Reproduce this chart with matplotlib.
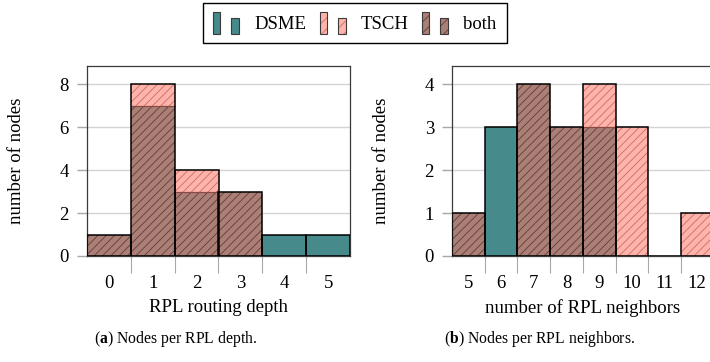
import numpy as np
import matplotlib
matplotlib.use("Agg")
import matplotlib.pyplot as plt
from matplotlib.patches import Rectangle
from matplotlib.legend_handler import HandlerBase
from matplotlib.ticker import FixedLocator

# ---- data -------------------------------------------------------------
depth_bins = [0, 1, 2, 3, 4, 5]
depth_dsme = [1, 7, 3, 3, 1, 1]
depth_tsch = [1, 8, 4, 3, 0, 0]

neigh_bins = [5, 6, 7, 8, 9, 10, 11, 12]
neigh_dsme = [1, 3, 4, 3, 3, 0, 0, 0]
neigh_tsch = [1, 0, 4, 3, 4, 3, 0, 1]

series_labels = ["DSME", "TSCH", "both"]

# ---- style ------------------------------------------------------------
plt.rcParams["font.family"] = ["Liberation Serif", "DejaVu Serif"]
plt.rcParams["mathtext.fontset"] = "custom"
plt.rcParams["mathtext.rm"] = "Liberation Serif"
plt.rcParams["mathtext.bf"] = "Liberation Serif:bold"
plt.rcParams["hatch.linewidth"] = 0.6

FS = 13.5
TEAL = "#468a8c"
PINK = "#ffb3aa"
PINK_HATCH = "#c46f68"
BROWN = "#ab7e76"
BROWN_HATCH = "#5e3f3a"
SPLIT = "#8a4a44"
GRID = "#d4d4d4"
TICK = "#a8a8a8"
HATCH = "////"

W, H = 710, 362
fig = plt.figure(figsize=(W / 100, H / 100), dpi=100)


def px_axes(x0, x1, ytop, ybot):
    return fig.add_axes([x0 / W, 1 - ybot / H, (x1 - x0) / W, (ybot - ytop) / H])


def draw_hist(ax, bins, dsme, tsch):
    x = np.asarray(bins, dtype=float)
    d = np.asarray(dsme, dtype=float)
    t = np.asarray(tsch, dtype=float)
    both = np.minimum(d, t)
    top = np.maximum(d, t)
    ax.bar(x, both, width=1.0, color=BROWN, edgecolor=BROWN_HATCH, lw=0,
           hatch=HATCH, zorder=2)
    ax.bar(x, d - both, bottom=both, width=1.0, color=TEAL, lw=0, zorder=2)
    ax.bar(x, t - both, bottom=both, width=1.0, color=PINK,
           edgecolor=PINK_HATCH, lw=0, hatch=HATCH, zorder=2)
    split = (both > 0) & (top > both)
    ax.hlines(both[split], x[split] - 0.5, x[split] + 0.5, color=SPLIT,
              lw=0.9, zorder=3)
    ax.bar(x, top, width=1.0, fill=False, edgecolor="black", lw=1.1, zorder=4)

    ax.set_xlim(x[0] - 0.5, x[-1] + 0.5)
    ax.set_xticks(x)
    ax.set_xticklabels([str(b) for b in bins])
    ax.xaxis.set_minor_locator(FixedLocator(x[:-1] + 0.5))
    ax.tick_params(axis="x", which="major", length=0, pad=14, labelsize=FS)
    ax.tick_params(axis="x", which="minor", length=12, width=0.8, color=TICK)
    ax.tick_params(axis="y", which="major", length=7, width=1.0, color=TICK,
                   pad=6, labelsize=FS)
    ax.yaxis.grid(True, color=GRID, lw=1.0, zorder=0)
    ax.set_axisbelow(True)
    for s in ax.spines.values():
        s.set_color("#3a3a3a")
        s.set_linewidth(0.9)


ax1 = px_axes(87, 350, 66, 256)
draw_hist(ax1, depth_bins, depth_dsme, depth_tsch)
ax1.set_ylim(0, 8.84)
ax1.set_yticks([0, 2, 4, 6, 8])
ax1.set_xlabel("RPL routing depth", fontsize=FS)
ax1.set_ylabel("number of nodes", fontsize=FS)

ax2 = px_axes(452, 713.6, 66, 256)
draw_hist(ax2, neigh_bins, neigh_dsme, neigh_tsch)
ax2.set_ylim(0, 4.42)
ax2.set_yticks([0, 1, 2, 3, 4])
ax2.set_xlabel("number of RPL neighbors", fontsize=FS)
ax2.set_ylabel("number of nodes", fontsize=FS)

# label placement (pixel based)
for ax, ylab_x, x0, x1 in [(ax1, 17, 87, 350), (ax2, 382, 452, 713.6)]:
    ax.yaxis.label.set_verticalalignment("center")
    ax.yaxis.set_label_coords((ylab_x - x0) / (x1 - x0), 0.5)
    ax.xaxis.label.set_verticalalignment("center")
    ax.xaxis.set_label_coords(0.5, (256 - 308) / (256 - 66))

# ---- legend -----------------------------------------------------------
class TwinBarHandler(HandlerBase):
    def __init__(self, face, hatch_color, hatch):
        super().__init__()
        self.face = face
        self.hatch_color = hatch_color
        self.hatch = hatch

    def create_artists(self, legend, orig_handle, xdescent, ydescent,
                       width, height, fontsize, trans):
        base = -ydescent - 2.0
        arts = []
        for x0, w, h in [(0, 5.0, 16.0), (13.0, 5.5, 11.5)]:
            r = Rectangle((x0 - xdescent, base), w, h, facecolor=self.face,
                          edgecolor=self.hatch_color, lw=0,
                          hatch=self.hatch, transform=trans)
            o = Rectangle((x0 - xdescent, base), w, h, fill=False,
                          edgecolor="#3a3a3a", lw=0.8, transform=trans)
            arts += [r, o]
        return arts


h_d = Rectangle((0, 0), 1, 1, color=TEAL)
h_t = Rectangle((0, 0), 1, 1, color=PINK)
h_b = Rectangle((0, 0), 1, 1, color=BROWN)
leg = fig.legend(
    [h_d, h_t, h_b], series_labels, loc="center",
    bbox_to_anchor=(355 / W, 1 - 23 / H), ncol=3, fontsize=FS,
    frameon=True, fancybox=False, edgecolor="black", framealpha=1,
    handlelength=1.4, handleheight=1.1, handletextpad=0.8,
    columnspacing=0.7, borderpad=0.55,
    handler_map={
        h_d: TwinBarHandler(TEAL, TEAL, None),
        h_t: TwinBarHandler(PINK, PINK_HATCH, "///"),
        h_b: TwinBarHandler(BROWN, BROWN_HATCH, "///"),
    },
)
leg.get_frame().set_linewidth(1.0)

# ---- captions ---------------------------------------------------------
fig.text(175.5 / W, 1 - 339 / H, r"($\mathbf{a}$) Nodes per RPL depth.",
         ha="center", va="center", fontsize=11.3)
fig.text(540 / W, 1 - 339 / H, r"($\mathbf{b}$) Nodes per RPL neighbors.",
         ha="center", va="center", fontsize=11.3)

fig.savefig("out.png", dpi=100)
